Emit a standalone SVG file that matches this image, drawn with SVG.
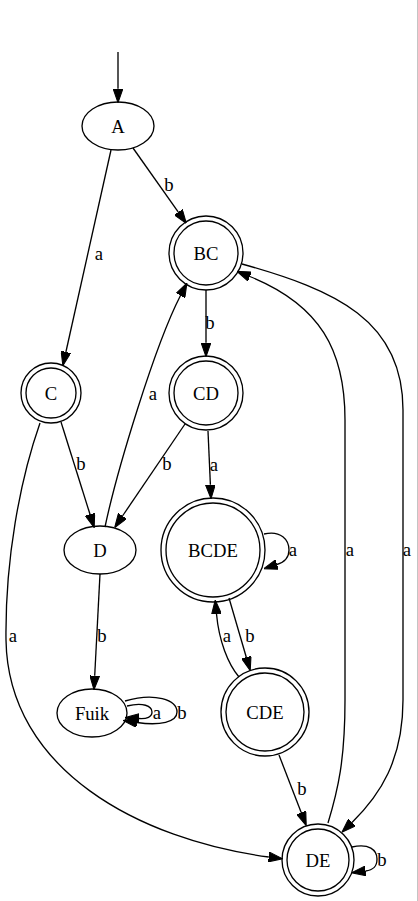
<svg xmlns="http://www.w3.org/2000/svg" width="418" height="901" viewBox="0 0 418 901">
  <style>
    .node ellipse, .node circle { fill: none; stroke: #000; stroke-width: 1.33; }
    text { font-family: Liberation Serif, Tinos, Times New Roman, Times, Noto Serif, DejaVu Serif, FreeSerif, serif; font-size: 18.67px; fill: #000; text-anchor: middle; }
    .edges path { fill: none; stroke: #000; stroke-width: 1.33; marker-end: url(#arrow); }
  </style>
  <defs>
    <marker id="arrow" markerUnits="userSpaceOnUse" markerWidth="14" markerHeight="10" refX="0" refY="4.67" orient="auto" viewBox="0 0 13.33 9.33">
      <path d="M0,0 L13.33,4.67 L0,9.33 Z" fill="#000" stroke="#000" stroke-width="1"/>
    </marker>
  </defs>
  <rect width="418" height="901" fill="#fff"/>
  <line x1="417.5" y1="0" x2="417.5" y2="901" stroke="#c4c4c4" stroke-width="1"/>

  <g class="edges" id="edges">
    <!-- initial arrow -->
    <path d="M118,52 L118,88.7"/>
    <!-- A -b-> BC -->
    <path d="M133,148 L178.3,212.1"/>
    <text x="169" y="191">b</text>
    <!-- A -a-> C -->
    <path d="M111,150 L65.9,352"/>
    <text x="99" y="260">a</text>
    <!-- BC -b-> CD -->
    <path d="M206,290 L206,342.7"/>
    <text x="210" y="329">b</text>
    <!-- C -b-> D -->
    <path d="M61,422 L90,514.3"/>
    <text x="81" y="470">b</text>
    <!-- D -a-> BC -->
    <path d="M105,527 C117,470 155,345 180.5,295.5"/>
    <text x="153" y="400">a</text>
    <!-- CD -b-> D -->
    <path d="M185,424 L122.5,516"/>
    <text x="167" y="470">b</text>
    <!-- CD -a-> BCDE -->
    <path d="M208,431 L210.4,484.7"/>
    <text x="214" y="471">a</text>
    <!-- BCDE -a-> BCDE -->
    <path d="M264,534 C281,530 289,540 289,550 C289,558 285,562 277,564.5"/>
    <text x="293" y="556">a</text>
    <!-- BCDE -b-> CDE -->
    <path d="M229,598 L246.3,657.2"/>
    <text x="250" y="642">b</text>
    <!-- CDE -a-> BCDE -->
    <path d="M239,677 C228,664 219,641 216.5,614"/>
    <text x="227" y="642">a</text>
    <!-- BC -a-> DE -->
    <path d="M242,264 C335,290 403,320 403,410 L403,700 C403,760 380,795 352,822.4"/>
    <text x="407" y="556">a</text>
    <!-- DE -a-> BC -->
    <path d="M328,823 C338,790 345,760 345,700 L345,420 C345,350 320,305 249.8,276.5"/>
    <text x="350" y="556">a</text>
    <!-- C -a-> DE -->
    <path d="M40,423 C20,480 5,560 6,640 C8,770 140,840 268.8,857"/>
    <text x="13" y="642">a</text>
    <!-- D -b-> Fuik -->
    <path d="M100,574 L94.7,675.7"/>
    <text x="102" y="642">b</text>
    <!-- Fuik -a-> Fuik -->
    <path d="M127,706 C143,702 152,706 152,712 C152,717 147,719 139,718.5"/>
    <text x="157" y="719">a</text>
    <!-- Fuik -b-> Fuik -->
    <path d="M125,701 C155,692 177,700 177,712 C177,722 160,726 137,722.5"/>
    <text x="182" y="719">b</text>
    <!-- CDE -b-> DE -->
    <path d="M279,755 L301.2,812.6"/>
    <text x="302" y="795">b</text>
    <!-- DE -b-> DE -->
    <path d="M352,847 C369,843 377,850 377,859 C377,867 373,870 365.5,871"/>
    <text x="382" y="866">b</text>
  </g>

  <g class="node" id="A">
    <ellipse cx="118" cy="126" rx="36" ry="24"/>
    <text x="118" y="132.5">A</text>
  </g>
  <g class="node" id="BC">
    <circle cx="206" cy="253" r="37"/>
    <circle cx="206" cy="253" r="32"/>
    <text x="206" y="259.5">BC</text>
  </g>
  <g class="node" id="C">
    <circle cx="51" cy="393" r="30"/>
    <circle cx="51" cy="393" r="25"/>
    <text x="51" y="399.5">C</text>
  </g>
  <g class="node" id="CD">
    <circle cx="206" cy="393" r="37"/>
    <circle cx="206" cy="393" r="32"/>
    <text x="206" y="399.5">CD</text>
  </g>
  <g class="node" id="D">
    <ellipse cx="100" cy="550" rx="36" ry="24"/>
    <text x="100" y="556.5">D</text>
  </g>
  <g class="node" id="BCDE">
    <circle cx="213" cy="550" r="52"/>
    <circle cx="213" cy="550" r="47"/>
    <text x="213" y="556.5">BCDE</text>
  </g>
  <g class="node" id="Fuik">
    <ellipse cx="92" cy="713" rx="35" ry="24"/>
    <text x="92" y="719.5">Fuik</text>
  </g>
  <g class="node" id="CDE">
    <circle cx="265" cy="712" r="44"/>
    <circle cx="265" cy="712" r="39"/>
    <text x="265" y="718.5">CDE</text>
  </g>
  <g class="node" id="DE">
    <circle cx="318" cy="860" r="36"/>
    <circle cx="318" cy="860" r="31"/>
    <text x="318" y="866.5">DE</text>
  </g>
</svg>
